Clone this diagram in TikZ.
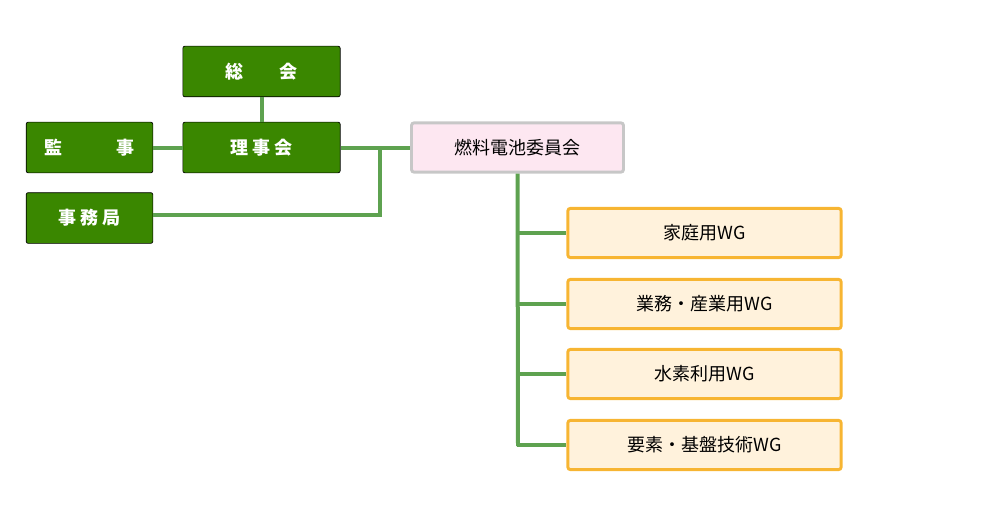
\documentclass[tikz,border=0pt]{standalone}
\usepackage{fontspec}
\setmainfont{Noto Sans CJK JP}
\usetikzlibrary{positioning}
\definecolor{boardgreen}{HTML}{3A8700}
\definecolor{linegreen}{HTML}{5EA250}
\definecolor{compink}{HTML}{FDE7F1}
\definecolor{wgfill}{HTML}{FFF2DC}
\definecolor{wgedge}{HTML}{F7B532}
\tikzset{
  board/.style={draw=black,line width=.5pt,fill=boardgreen,rounded corners=1.5pt,
    minimum width=118pt,minimum height=38pt,text=white,font=\fontsize{13.5}{14}\selectfont\bfseries},
  small board/.style={board,minimum width=95pt},
  committee/.style={draw=black!22,line width=2.2pt,fill=compink,rounded corners=2pt,
    minimum width=159pt,minimum height=37pt,font=\fontsize{13.5}{14}\selectfont},
  wg/.style={draw=wgedge,line width=2.2pt,fill=wgfill,rounded corners=2pt,
    minimum width=205pt,minimum height=37pt,font=\fontsize{13.5}{14}\selectfont},
  link/.style={draw=linegreen,line width=3pt}
}
\begin{document}
\begin{tikzpicture}[x=.75pt,y=-.75pt]
\useasboundingbox (0,0) rectangle (1000,510);
% lines first
\coordinate (j1) at (380,148);
\coordinate (j2) at (380,215);
\coordinate (t0) at (518,446);
\node[board] (sokai) at (261.5,71.5) {総\hspace{2em}会};
\node[board] (riji) at (261.5,147.5) {理 事 会};
\node[small board] (kanji) at (89.5,147.5) {監\hspace{3em}事};
\node[small board] (jimu) at (89.5,218) {事 務 局};
\node[committee] (iin) at (517.5,147.5) {燃料電池委員会};
\node[wg] (wg1) at (704.5,233) {家庭用WG};
\node[wg] (wg2) at (704.5,304) {業務・産業用WG};
\node[wg] (wg3) at (704.5,374) {水素利用WG};
\node[wg] (wg4) at (704.5,445) {要素・基盤技術WG};
\begin{scope}[on background layer/.try]
\end{scope}
\draw[link] (sokai) -- (riji);
\draw[link] (kanji) -- (riji);
\draw[link] (riji) -- (iin);
\draw[link] (j1) -- (j2) -- (jimu.east |- j2);
\draw[link] (iin.south) -- (t0);
\foreach \w in {wg1,wg2,wg3,wg4}
  \draw[link] (518,0 |- \w.west) ++(-1.5,0) -- (\w.west);
\end{tikzpicture}
\end{document}
